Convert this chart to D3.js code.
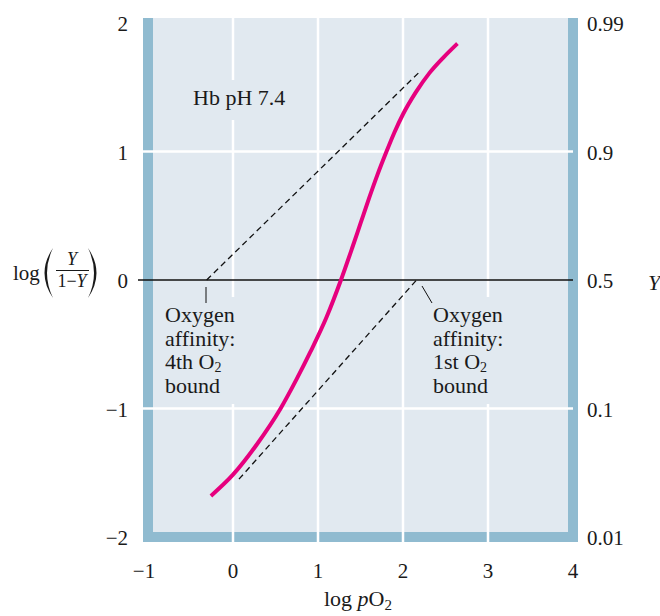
<!DOCTYPE html>
<html>
<head>
<meta charset="utf-8">
<script src="https://cdn.jsdelivr.net/npm/d3@7"></script>
<style>
  html, body { margin: 0; padding: 0; background: #fff; }
  svg { display: block; }
  text { font-family: "Liberation Serif", "Times New Roman", serif; fill: #1a1a1a; }
</style>
</head>
<body>
<svg id="chart" width="660" height="616"></svg>
<script>
// ---- data ----
const xTicks = [-1, 0, 1, 2, 3, 4];
const yTicks = [-2, -1, 0, 1, 2];
const yRightTicks = [-2, -1, 0, 1, 2];
const yRightLabels = ["0.01", "0.1", "0.5", "0.9", "0.99"];
const xGrid = [0, 1, 2, 3];
const yGrid = [-1, 1];

// Hill plot curve (log pO2, log(Y/(1-Y)))
const curveLogPO2 = [-0.26, 0.00, 0.28, 0.56, 0.75, 0.91, 1.10, 1.27, 1.40, 1.50, 1.60, 1.70, 1.80, 1.90, 2.00, 2.15, 2.31, 2.48, 2.64];
const curveLogRatio = [-1.68, -1.515, -1.28, -1.00, -0.77, -0.56, -0.29, 0.00, 0.245, 0.44, 0.635, 0.82, 0.99, 1.15, 1.29, 1.46, 1.61, 1.735, 1.84];

// asymptotes (dashed)
const asym4thX = [-0.31, 2.18];
const asym4thY = [0.00, 1.61];
const asym1stX = [0.07, 2.16];
const asym1stY = [-1.55, 0.00];

(function () {
// ---- layout ----
const svg = d3.select("#chart");
const x = d3.scaleLinear().domain([-1, 4]).range([148, 573]);
const y = d3.scaleLinear().domain([-2, 2]).range([537, 23]);

const BG = "#e1e9f0";
const BAND = "#90bbd0";
const BW = 10;

const pLeft = x(-1) - BW / 2, pRight = x(4) + BW / 2;
const pTop = y(2) - BW / 2, pBottom = y(-2) + BW / 2;

// background
svg.append("rect").attr("x", pLeft).attr("y", pTop)
  .attr("width", pRight - pLeft).attr("height", pBottom - pTop).attr("fill", BG);

// frame bands (left, right, bottom)
svg.append("rect").attr("x", pLeft).attr("y", pTop).attr("width", BW).attr("height", pBottom - pTop).attr("fill", BAND);
svg.append("rect").attr("x", pRight - BW).attr("y", pTop).attr("width", BW).attr("height", pBottom - pTop).attr("fill", BAND);
svg.append("rect").attr("x", pLeft).attr("y", pBottom - BW).attr("width", pRight - pLeft).attr("height", BW).attr("fill", BAND);

// grid lines
svg.append("g").selectAll("line").data(xGrid).join("line")
  .attr("x1", d => x(d)).attr("x2", d => x(d))
  .attr("y1", pTop).attr("y2", pBottom)
  .attr("stroke", "#fff").attr("stroke-width", 2.5);
svg.append("g").selectAll("line").data(yGrid).join("line")
  .attr("x1", pLeft).attr("x2", x(4))
  .attr("y1", d => y(d)).attr("y2", d => y(d))
  .attr("stroke", "#fff").attr("stroke-width", 2.5);

// label backgrounds that mask grid lines
const masks = [
  {x0: 188, x1: 296, y0: 80, y1: 120},
  {x0: 160, x1: 245, y0: 297, y1: 404},
  {x0: 428, x1: 512, y0: 297, y1: 404}
];
svg.append("g").selectAll("rect").data(masks).join("rect")
  .attr("x", d => d.x0).attr("y", d => d.y0)
  .attr("width", d => d.x1 - d.x0).attr("height", d => d.y1 - d.y0)
  .attr("fill", BG);

// zero line
svg.append("line").attr("x1", 138).attr("x2", x(4))
  .attr("y1", y(0)).attr("y2", y(0))
  .attr("stroke", "#111").attr("stroke-width", 1.4);

// dashed asymptotes
const straight = d3.line().x(d => x(d[0])).y(d => y(d[1]));
[[asym4thX, asym4thY], [asym1stX, asym1stY]].forEach(([xs, ys]) => {
  svg.append("path")
    .attr("d", straight(xs.map((v, i) => [v, ys[i]])))
    .attr("fill", "none").attr("stroke", "#111")
    .attr("stroke-width", 1.3).attr("stroke-dasharray", "6,4");
});

// leader lines
svg.append("line").attr("x1", 206).attr("y1", 287).attr("x2", 206).attr("y2", 303)
  .attr("stroke", "#111").attr("stroke-width", 1);
svg.append("line").attr("x1", 422).attr("y1", 286).attr("x2", 432).attr("y2", 303)
  .attr("stroke", "#111").attr("stroke-width", 1);

// Hill curve
const curveLine = d3.line().x(d => x(d[0])).y(d => y(d[1])).curve(d3.curveMonotoneX);
svg.append("path")
  .attr("d", curveLine(curveLogPO2.map((v, i) => [v, curveLogRatio[i]])))
  .attr("fill", "none").attr("stroke", "#e6007e")
  .attr("stroke-width", 4).attr("stroke-linecap", "butt");

const FS = 21;
const AFS = 22;
const fmt = d => d < 0 ? "\u2212" + Math.abs(d) : String(d);

// left tick labels
svg.append("g").selectAll("text").data(yTicks).join("text")
  .attr("x", 128).attr("y", d => y(d) + 8)
  .attr("text-anchor", "end").attr("font-size", FS)
  .text(fmt);

// right tick labels
svg.append("g").selectAll("text").data(yRightTicks).join("text")
  .attr("x", 587).attr("y", d => y(d) + 8)
  .attr("font-size", FS)
  .text((d, i) => yRightLabels[i]);

// bottom tick labels
svg.append("g").selectAll("text").data(xTicks).join("text")
  .attr("x", d => x(d) - (d < 0 ? 4 : 0)).attr("y", 578)
  .attr("text-anchor", "middle").attr("font-size", FS)
  .text(fmt);

// x axis title
const xt = svg.append("text").attr("x", 358).attr("y", 606)
  .attr("text-anchor", "middle").attr("font-size", AFS);
xt.append("tspan").text("log ");
xt.append("tspan").attr("font-style", "italic").text("p");
xt.append("tspan").text("O");
xt.append("tspan").attr("font-size", 15).attr("dy", 4).text("2");

// right Y label
svg.append("text").attr("x", 648).attr("y", 290)
  .attr("font-size", AFS).attr("font-style", "italic").text("Y");

// left axis title: log (Y / (1−Y))
const lt = svg.append("g");
lt.append("text").attr("x", 13).attr("y", 280).attr("font-size", 21).text("log");
lt.append("path")
  .attr("d", "M53,248 Q36,273 53,298 Q41,273 53,248 Z").attr("fill", "#1a1a1a");
lt.append("path")
  .attr("d", "M88,248 Q105,273 88,298 Q100,273 88,248 Z").attr("fill", "#1a1a1a");
lt.append("text").attr("x", 72).attr("y", 265).attr("text-anchor", "middle")
  .attr("font-size", 18).attr("font-style", "italic").text("Y");
lt.append("line").attr("x1", 56).attr("x2", 89).attr("y1", 270.5).attr("y2", 270.5)
  .attr("stroke", "#1a1a1a").attr("stroke-width", 1);
const den = lt.append("text").attr("x", 72).attr("y", 287).attr("text-anchor", "middle")
  .attr("font-size", 18);
den.append("tspan").text("1\u2212");
den.append("tspan").attr("font-style", "italic").text("Y");

// annotations
svg.append("text").attr("x", 193).attr("y", 105).attr("font-size", AFS).text("Hb pH 7.4");

function multiline(x0, lines) {
  lines.forEach((ln, i) => {
    const baseY = 322 + i * 23.5;
    const t = svg.append("text").attr("font-size", AFS).attr("x", x0).attr("y", baseY);
    if (Array.isArray(ln)) {
      t.append("tspan").text(ln[0]);
      t.append("tspan").attr("font-size", 14).attr("dy", 3).text(ln[1]);
    } else {
      t.text(ln);
    }
  });
}
multiline(165, ["Oxygen", "affinity:", ["4th O", "2"], "bound"]);
multiline(433, ["Oxygen", "affinity:", ["1st O", "2"], "bound"]);
})();
</script>
</body>
</html>
